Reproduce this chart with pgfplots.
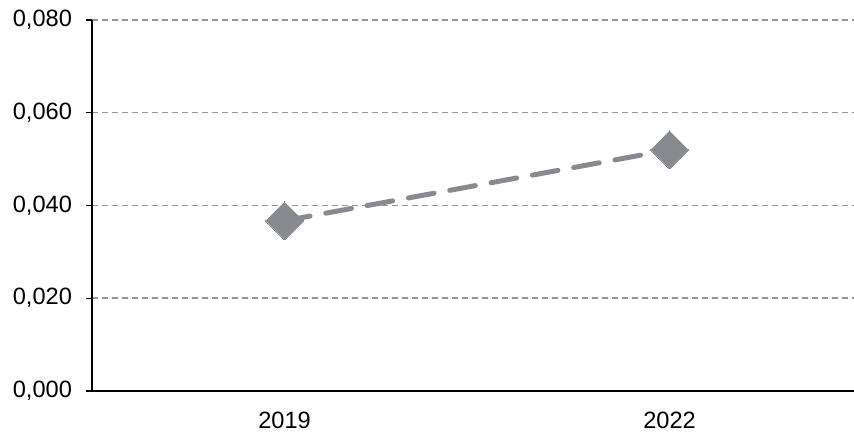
\documentclass[border=0pt]{standalone}
\usepackage{fontspec}
\setmainfont{Liberation Sans}
\usepackage{pgfplots}
\pgfplotsset{compat=1.18}
\definecolor{markgray}{HTML}{878B8F}
\definecolor{gridgray}{HTML}{959595}
\begin{document}
\begin{tikzpicture}
\begin{axis}[
  name=ax,
  scale only axis,
  width=381pt, height=185.5pt,
  xmin=-0.5, xmax=1.479,
  ymin=0, ymax=0.08,
  axis x line*=bottom,
  axis y line*=left,
  axis line style={black, line width=0.8pt},
  ytick={0,0.02,0.04,0.06,0.08},
  scaled y ticks=false,
  xtick={0,1},
  xticklabels={2019,2022},
  x tick style={draw=none},
  extra x ticks={-0.5,0.5},
  extra x tick labels={},
  extra x tick style={tick style={draw=black, line width=0.6pt}, major tick length=3pt, grid=none},
  tick align=outside,
  y tick style={black, line width=0.6pt},
  major tick length=3pt,
  ymajorgrids,
  grid style={gridgray, line width=0.75pt, dash pattern=on 3pt off 2pt},
  /pgf/number format/fixed,
  /pgf/number format/fixed zerofill,
  /pgf/number format/precision=3,
  /pgf/number format/use comma,
  /pgf/number format/assume math mode=true,
  ticklabel style={font=\fontsize{11.8}{13}\selectfont},
  yticklabel style={xshift=-3.5pt},
  xticklabel style={yshift=-4pt},
  clip=false,
]
\addplot[markgray, line width=2.5pt, line cap=round, dash pattern=on 13pt off 8pt,
  mark=square*, mark size=6.7pt, mark options={solid, rotate=45, fill=markgray, draw=markgray, line width=0pt}]
  coordinates {(0,0.0367) (1,0.0520)};
\end{axis}
\pgfresetboundingbox
\path ([xshift=-46pt,yshift=-22.5pt]ax.south west) rectangle ([yshift=10pt]ax.north east);
\end{tikzpicture}
\end{document}
